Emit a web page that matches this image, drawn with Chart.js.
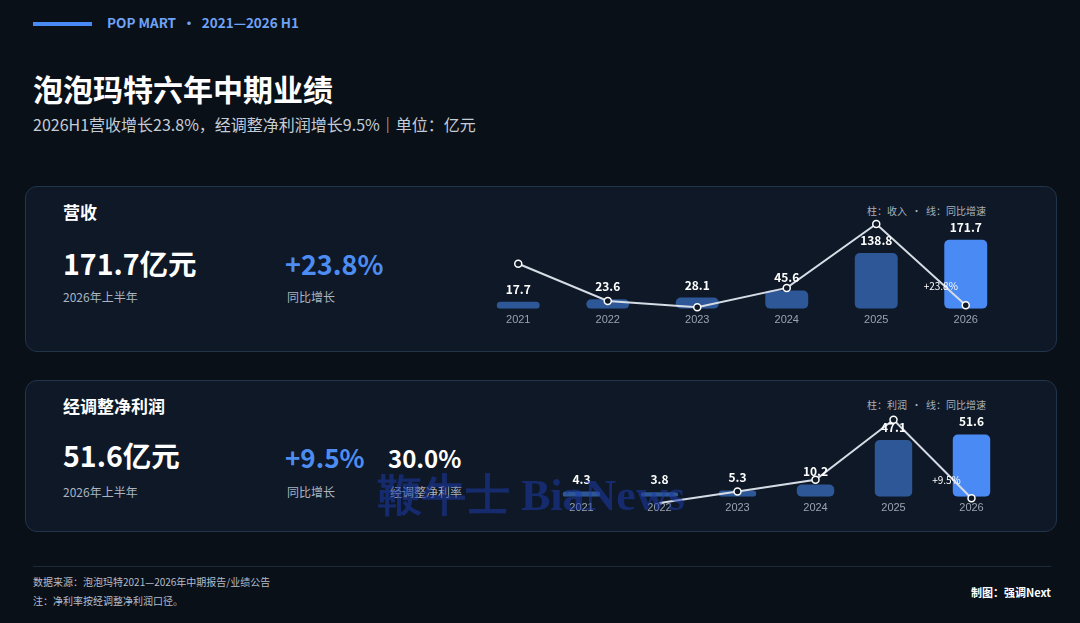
<!DOCTYPE html>
<html><head><meta charset="utf-8">
<script src="https://cdn.jsdelivr.net/npm/chart.js@4.4.0/dist/chart.umd.min.js"></script>
<style>
body{margin:0;width:1080px;height:623px;background:#0a1018;font-family:"Noto Sans CJK SC","Noto Sans",sans-serif;color:#fff;position:relative;overflow:hidden}
.a{position:absolute;white-space:nowrap;line-height:1}
.card{position:absolute;left:25px;width:1032px;background:#0e1826;border:1px solid #22344a;border-radius:12px;box-sizing:border-box}
.big{font-size:28.5px;font-weight:700}
.blue{color:#4d8df2}
.sm{font-size:12px;color:#aab3c0}
.leg{font-size:10px;color:#a8b0bc}
canvas{position:absolute}
</style></head><body>
<div class="a" style="left:33px;top:22px;width:59px;height:4px;background:#4a8af4"></div>
<div class="a" style="left:107px;top:16px;font-size:13.5px;font-weight:700;color:#6fa3f7">POP MART &nbsp;·&nbsp; 2021—2026 H1</div>
<div class="a" style="left:33px;top:73px;font-size:30px;font-weight:700">泡泡玛特六年中期业绩</div>
<div class="a" style="left:33px;top:116px;font-size:16px;color:#c4ccd6">2026H1营收增长23.8%，经调整净利润增长9.5%｜单位：亿元</div>

<div class="card" style="top:186px;height:166px"></div>
<div class="card" style="top:380px;height:152px"></div>

<div class="a" style="left:63px;top:203px;font-size:17px;font-weight:700">营收</div>
<div class="a big" style="left:63px;top:249px">171.7亿元</div>
<div class="a sm" style="left:63px;top:291px">2026年上半年</div>
<div class="a big blue" style="left:285px;top:250px;font-size:27px">+23.8%</div>
<div class="a sm" style="left:287px;top:291px">同比增长</div>
<div class="a leg" style="left:867px;top:206px">柱：收入 &nbsp;·&nbsp; 线：同比增速</div>

<div class="a" style="left:63px;top:397px;font-size:17px;font-weight:700">经调整净利润</div>
<div class="a big" style="left:63px;top:441px">51.6亿元</div>
<div class="a sm" style="left:63px;top:486px">2026年上半年</div>
<div class="a big blue" style="left:285px;top:444px;font-size:26px">+9.5%</div>
<div class="a sm" style="left:287px;top:486px">同比增长</div>
<div class="a big" style="left:388px;top:446px;font-size:24px">30.0%</div>
<div class="a sm" style="left:390px;top:486px">经调整净利率</div>
<div class="a leg" style="left:867px;top:400px">柱：利润 &nbsp;·&nbsp; 线：同比增速</div>

<canvas id="rev" width="548" height="130" style="left:468px;top:194px;width:548px;height:130px"></canvas>
<canvas id="pro" width="479" height="130" style="left:537px;top:382px;width:479px;height:130px"></canvas>

<div class="a" style="left:378px;top:474px;font-size:44px;font-family:'Liberation Serif',serif;font-weight:700;color:rgba(30,60,170,0.55)">鞭牛士 BiaNews</div>

<div class="a" style="left:33px;top:566px;width:1018px;height:1px;background:#1e2a38"></div>
<div class="a" style="left:33px;top:577px;font-size:10px;color:#b4bcc8">数据来源：泡泡玛特2021—2026年中期报告/业绩公告</div>
<div class="a" style="left:33px;top:596px;font-size:10px;color:#b4bcc8">注：净利率按经调整净利润口径。</div>
<div class="a" style="right:29px;top:587px;font-size:11px;font-weight:700">制图：强调Next</div>

<script>
const years = ['2021','2022','2023','2024','2025','2026'];
const revenue = [17.7, 23.6, 28.1, 45.6, 138.8, 171.7];
const revenueGrowth = [116, 33.3, 19.1, 62.3, 204.4, 23.8];
const profit = [4.3, 3.8, 5.3, 10.2, 47.1, 51.6];
const profitGrowth = [null, -11.6, 39.5, 92.5, 361.8, 9.5];

const pastColor = '#2d5796';
const nowColor = '#4a8af4';

const labelPlugin = {
  id: 'labels',
  afterDatasetsDraw(chart, args, opts) {
    const ctx = chart.ctx;
    const bars = chart.getDatasetMeta(1).data;
    ctx.save();
    ctx.textAlign = 'center';
    ctx.fillStyle = '#fff';
    ctx.font = 'bold 12px "Noto Sans CJK SC"';
    bars.forEach((b, i) => {
      ctx.fillText(chart.data.datasets[1].data[i].toFixed(1), b.x, b.y - 8);
    });
    ctx.font = '10px "Noto Sans CJK SC"';
    ctx.fillText(opts.growthText, bars[5].x - 25, bars[5].y + 50);
    ctx.restore();
  }
};

function makeChart(id, bars, growth, yMax, gMin, gMax, growthText) {
  return new Chart(document.getElementById(id), {
    type: 'bar',
    data: {
      labels: years,
      datasets: [{
        type: 'line',
        data: growth,
        yAxisID: 'g',
        borderColor: '#d6dce6',
        borderWidth: 2,
        pointRadius: 3.5,
        pointBorderWidth: 1.5,
        pointBackgroundColor: '#0e1826',
        pointBorderColor: '#ffffff',
        clip: false,
        order: 0
      }, {
        data: bars,
        yAxisID: 'y',
        backgroundColor: bars.map((v, i) => i === bars.length - 1 ? nowColor : pastColor),
        borderRadius: 5,
        borderSkipped: false,
        barPercentage: 0.48,
        categoryPercentage: 1,
        order: 1
      }]
    },
    options: {
      responsive: false,
      animation: false,
      layout: { padding: 0 },
      plugins: { legend: { display: false }, tooltip: { enabled: false }, labels: { growthText } },
      scales: {
        x: {
          grid: { display: false }, border: { display: false },
          ticks: { color: '#9aa3b0', font: { size: 11 }, padding: -3 }
        },
        y: { display: false, min: 0, max: yMax },
        g: { display: false, min: gMin, max: gMax }
      }
    },
    plugins: [labelPlugin]
  });
}

makeChart('rev', revenue, revenueGrowth, 272, 15.8, 259, '+23.8%');
makeChart('pro', profit, profitGrowth, 90.5, 15.9, 507, '+9.5%');
</script>
</body></html>
